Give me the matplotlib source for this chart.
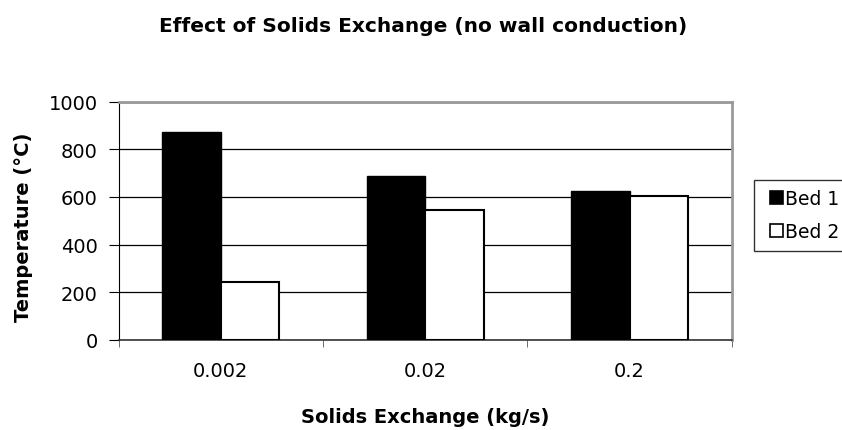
import matplotlib
matplotlib.use("Agg")
import matplotlib.pyplot as plt
from matplotlib.patches import Rectangle
from matplotlib.legend_handler import HandlerPatch
import numpy as np

categories = ["0.002", "0.02", "0.2"]
bed1 = [874, 689, 625]
bed2 = [244, 545, 605]
series_names = ["Bed 1", "Bed 2"]
yticks = [0, 200, 400, 600, 800, 1000]

plt.rcParams['font.family'] = ['DejaVu Sans']

W, H = 842, 431
fig = plt.figure(figsize=(W/100, H/100), dpi=100)
ax = fig.add_axes([118.7/W, 1-340.7/H, 613/W, 238/H])

x = np.arange(len(categories))
w = 1/3.5
b1 = ax.bar(x - w/2, bed1, width=w, color='black', edgecolor='black', linewidth=1, label=series_names[0], zorder=3)
b2 = ax.bar(x + w/2, bed2, width=w, color='white', edgecolor='black', linewidth=1.5, label=series_names[1], zorder=3)

ax.set_xlim(-0.5, len(categories)-0.5)
ax.set_ylim(0, 1000)
ax.set_yticks(yticks)
ax.set_yticklabels([str(v) for v in yticks], fontsize=14)
ax.set_xticks(x)
ax.set_xticklabels(categories, fontsize=14)
ax.set_xticks(np.arange(len(categories)+1) - 0.5, minor=True)
ax.tick_params(axis='x', which='major', length=0, pad=15)
ax.tick_params(axis='x', which='minor', length=5, direction='out', color='#555555')
ax.tick_params(axis='y', length=7, direction='out', pad=8)
ax.grid(axis='y', color='black', linewidth=0.9, zorder=0)
ax.set_axisbelow(True)

for s in ['top', 'right']:
    ax.spines[s].set_color('#999999')
    ax.spines[s].set_linewidth(2)
ax.spines['left'].set_color('black')
ax.spines['bottom'].set_color('#333333')
ax.spines['bottom'].set_linewidth(1.2)

ax.set_ylabel("Temperature (°C)", fontsize=14, fontweight='bold', va='center')
ax.yaxis.set_label_coords((23-118.7)/613, (340.7-227)/238)
ax.set_xlabel("Solids Exchange (kg/s)", fontsize=14, fontweight='bold', va='baseline')
ax.xaxis.set_label_coords(0.5, (340.7-423.3)/238)
fig.text(423/W, 1-32/H, "Effect of Solids Exchange (no wall conduction)", ha='center', va='baseline',
         fontsize=14.5, fontweight='bold')

def square_patch(legend, orig_handle, xdescent, ydescent, width, height, fontsize):
    s = 13 * 72 / 100  # square side in points
    return Rectangle((width - xdescent - s, -ydescent + (height - s) / 2), s, s)

h1, h2 = b1.patches[0], b2.patches[0]
leg = fig.legend(handles=[h1, h2], labels=series_names, loc='upper left',
                 bbox_to_anchor=(754/W, 1-180.7/H), fontsize=13.5,
                 frameon=True, fancybox=False, edgecolor='black', handlelength=1.05, handleheight=0.7,
                 handletextpad=0.12, borderpad=0.5, labelspacing=0.75, borderaxespad=0,
                 handler_map={Rectangle: HandlerPatch(patch_func=square_patch)})
leg.get_frame().set_linewidth(1)
for h in leg.legend_handles:
    h.set_linewidth(1.2)

fig.savefig("out.png", dpi=100)
